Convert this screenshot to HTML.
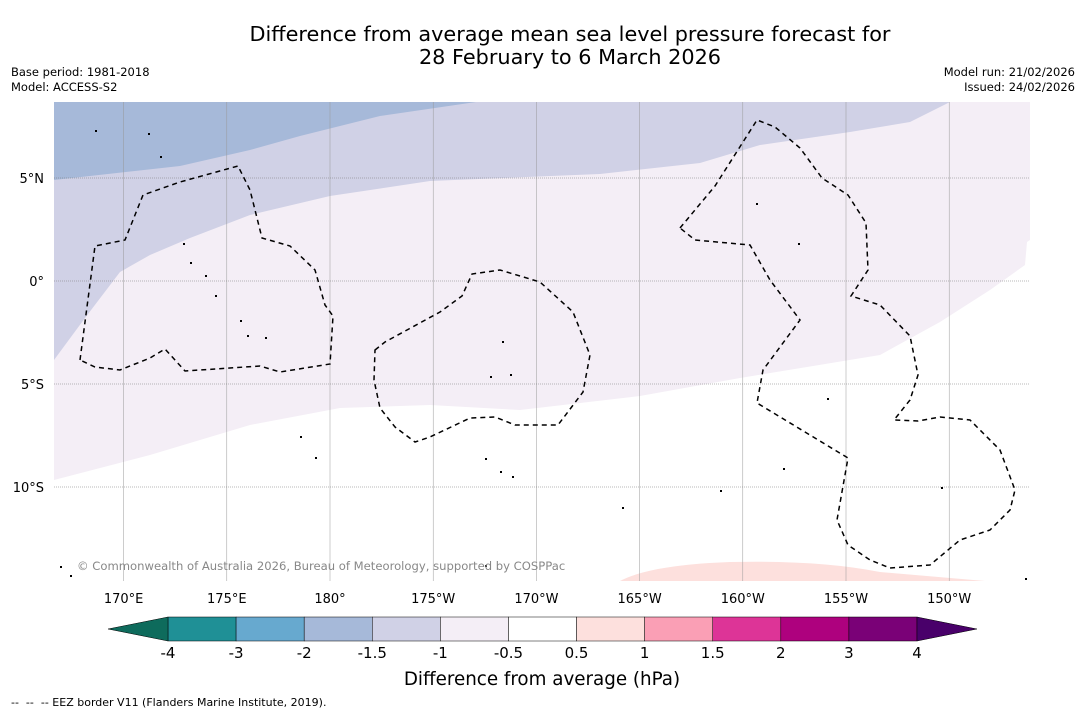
<!DOCTYPE html>
<html><head><meta charset="utf-8">
<style>
body{margin:0;background:#fff;font-family:"DejaVu Sans","Liberation Sans",sans-serif;}
svg text{font-family:"DejaVu Sans","Liberation Sans",sans-serif;}
</style></head>
<body>
<svg id="chart" width="1085" height="713" viewBox="0 0 1085 713" xmlns="http://www.w3.org/2000/svg">
<rect width="1085" height="713" fill="#fff"/>
<text x="570" y="41" font-size="20.8" text-anchor="middle" fill="#000">Difference from average mean sea level pressure forecast for</text>
<text x="570" y="64" font-size="20.8" text-anchor="middle" fill="#000">28 February to 6 March 2026</text>
<text x="11" y="76" font-size="11.5">Base period: 1981-2018</text>
<text x="11" y="91" font-size="11.5">Model: ACCESS-S2</text>
<text x="1075" y="76" font-size="11.5" text-anchor="end">Model run: 21/02/2026</text>
<text x="1075" y="91" font-size="11.5" text-anchor="end">Issued: 24/02/2026</text>
<g id="map"></g>
<g id="cbar"></g>
<text x="542" y="685" font-size="18.3" text-anchor="middle">Difference from average (hPa)</text>
<text x="11" y="706" font-size="11" style="white-space:pre" xml:space="preserve">--  --  -- EEZ border V11 (Flanders Marine Institute, 2019).</text>
</svg>
<script>
// colorbar data
const levels = [-4,-3,-2,-1.5,-1,-0.5,0.5,1,1.5,2,3,4];
const levelColors = ["#1f9096","#67a9cf","#a6b9d9","#d0d1e6","#f4eef6","#ffffff","#fde0dd","#fa9fb5","#dd3497","#ae017e","#7a0177"];
const underColor = "#0e6b5c", overColor = "#49006a";
// map axes
const lonTicks = [170,175,180,185,190,195,200,205,210];
const lonLabels = ["170°E","175°E","180°","175°W","170°W","165°W","160°W","155°W","150°W"];
const latTicks = [5,0,-5,-10];
const latLabels = ["5°N","0°","5°S","10°S"];
const NS="http://www.w3.org/2000/svg";
const X0=54,X1=1030,Y0=102,Y1=581;
const lx = lon => 330 + (lon-180)*20.64;
const ly = lat => 281 - lat*20.6;
function el(tag, attrs, parent){const e=document.createElementNS(NS,tag);for(const k in attrs)e.setAttribute(k,attrs[k]);parent.appendChild(e);return e;}
const map=document.getElementById('map');
const regions=[
 {name:"region-minus1-minus05",color:levelColors[4],d:"M54,102 L1030,102 L1030,240 L1027,242 L1025,265 L990,290 L940,322 L880,355 L740,378 L640,396 L520,410 L430,405 L340,408 L250,425 L150,455 L54,480 Z"},
 {name:"region-minus15-minus1",color:levelColors[3],d:"M54,102 L950,102 L910,122 L850,132 L760,145 L700,163 L600,174 L430,181 L330,196 L250,215 L190,238 L150,255 L120,272 L85,318 L54,360 Z"},
 {name:"region-minus2-minus15",color:levelColors[2],d:"M54,102 L476,102 L380,116 L300,136 L250,150 L180,166 L54,180 Z"},
 {name:"region-05-1",color:levelColors[6],d:"M620,581 Q650,565 730,562 Q820,560 880,572 L985,581 Z"}
];
regions.forEach(r=>{const p=el('path',{d:r.d,fill:r.color},map);

});
lonTicks.forEach((t,i)=>{const l=el('line',{x1:lx(t),x2:lx(t),y1:Y0,y2:Y1,stroke:'#999','stroke-width':0.5},map);


const tx=el('text',{x:lx(t),y:603,'font-size':13,'text-anchor':'middle'},map);tx.textContent=lonLabels[i];

});
latTicks.forEach((t,i)=>{const l=el('line',{x1:X0,x2:X1,y1:ly(t),y2:ly(t),stroke:'#777','stroke-width':0.6,'stroke-dasharray':'1,1'},map);


const tx=el('text',{x:44,y:ly(t)+5,'font-size':13,'text-anchor':'end'},map);tx.textContent=latLabels[i];

});
const eez=["M80,360 L95,246 L125,240 L143,195 L180,182 L238,166 L250,190 L262,238 L290,246 L315,270 L325,305 L333,316 L330,364 L280,372 L260,366 L185,371 L165,349 L150,358 L120,370 L95,367 Z",
"M375,350 L385,342 L440,312 L462,296 L472,274 L500,270 L540,282 L573,312 L590,355 L583,392 L558,425 L515,425 L495,417 L470,418 L430,437 L415,442 L395,427 L380,408 L374,380 Z",
"M680,228 L715,186 L757,120 L775,127 L800,148 L822,178 L848,195 L866,223 L868,270 L851,296 L880,305 L910,336 L918,375 L910,400 L894,420 L918,421 L940,417 L970,420 L1000,450 L1015,490 L1010,510 L990,530 L960,540 L930,565 L890,568 L870,560 L848,545 L837,520 L848,458 L757,403 L763,370 L800,320 L770,280 L750,245 L695,240 Z"];
eez.forEach(d=>{const p=el('path',{d,fill:'none',stroke:'#000','stroke-width':1.5,'stroke-dasharray':'5,4'},map);

});
[[183,243],[190,262],[205,275],[215,295],[240,320],[247,335],[265,337],[300,436],[315,457],[502,341],[490,376],[510,374],[485,458],[500,471],[512,476],[720,490],[783,468],[798,243],[756,203],[60,566],[95,130],[148,133],[160,156],[70,575],[485,565],[1025,578],[622,507],[827,398],[941,487]].forEach(p=>{
const c=el('rect',{x:p[0],y:p[1],width:2,height:2,fill:'#000'},map);

});
const cp=el('text',{x:77,y:570,'font-size':11.6,fill:'#888'},map);cp.textContent="© Commonwealth of Australia 2026, Bureau of Meteorology, supported by COSPPac";


const cb=document.getElementById('cbar');
const CX0=168,CX1=917,CY=617,CH=24,CT=641;
const cx = i => CX0 + i*(CX1-CX0)/(levels.length-1);
levelColors.forEach((c,i)=>{const r=el('rect',{x:cx(i),y:CY,width:cx(i+1)-cx(i),height:CH,fill:c,stroke:'#000','stroke-width':0.5},cb);

});
const a1=el('polygon',{points:`${CX0},${CY} 108,${CY+CH/2} ${CX0},${CT}`,fill:underColor,stroke:'#000','stroke-width':0.5},cb);


const a2=el('polygon',{points:`${CX1},${CY} 977,${CY+CH/2} ${CX1},${CT}`,fill:overColor,stroke:'#000','stroke-width':0.5},cb);


levels.forEach((v,i)=>{const t=el('text',{x:cx(i),y:658,'font-size':15,'text-anchor':'middle'},cb);t.textContent=String(v);

});
</script>
</body></html>
